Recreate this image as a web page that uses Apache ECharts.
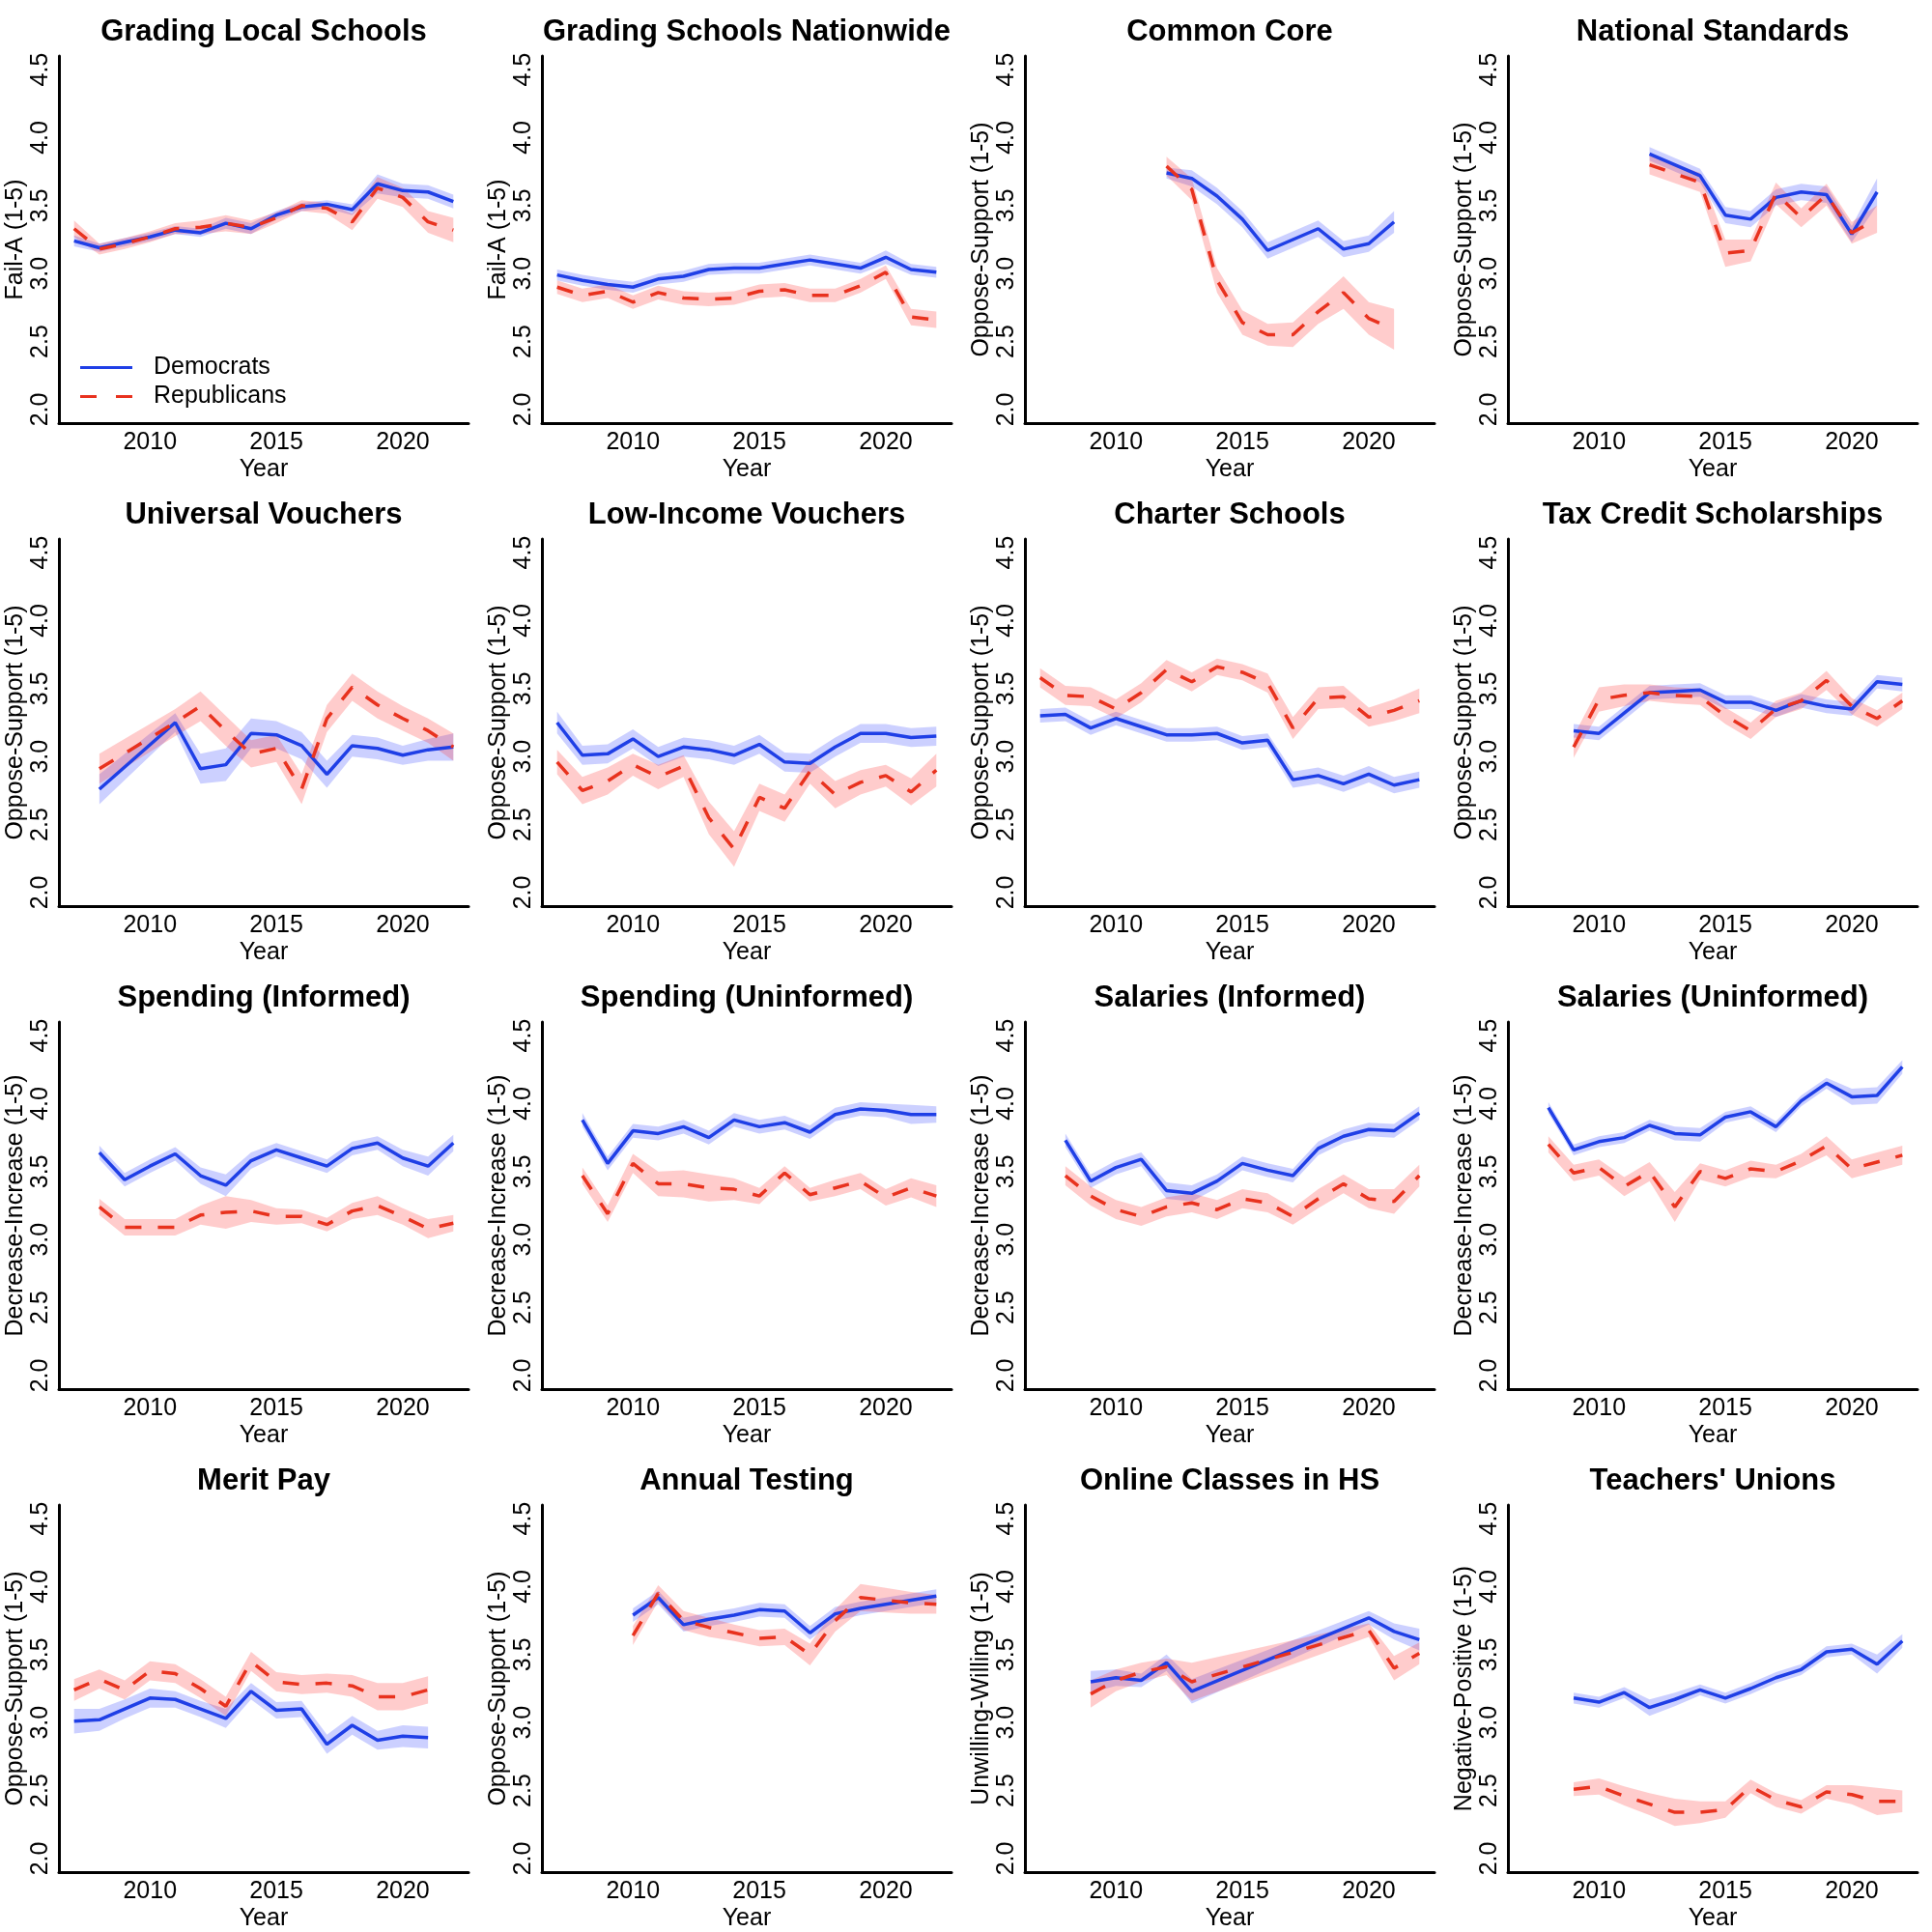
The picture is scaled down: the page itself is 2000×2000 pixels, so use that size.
<!DOCTYPE html>
<html>
<head>
<meta charset="utf-8">
<script src="https://cdn.jsdelivr.net/npm/echarts@6/dist/echarts.min.js"></script>
<style>
html,body{margin:0;padding:0;background:#fff;}
#chart{width:2000px;height:2000px;}
</style>
</head>
<body>
<div id="chart"></div>
<script>
// ---------- data ----------
const titles = ["Grading Local Schools","Grading Schools Nationwide","Common Core","National Standards",
  "Universal Vouchers","Low-Income Vouchers","Charter Schools","Tax Credit Scholarships",
  "Spending (Informed)","Spending (Uninformed)","Salaries (Informed)","Salaries (Uninformed)",
  "Merit Pay","Annual Testing","Online Classes in HS","Teachers' Unions"];
const yNames = ["Fail-A (1-5)","Fail-A (1-5)","Oppose-Support (1-5)","Oppose-Support (1-5)",
  "Oppose-Support (1-5)","Oppose-Support (1-5)","Oppose-Support (1-5)","Oppose-Support (1-5)",
  "Decrease-Increase (1-5)","Decrease-Increase (1-5)","Decrease-Increase (1-5)","Decrease-Increase (1-5)",
  "Oppose-Support (1-5)","Oppose-Support (1-5)","Unwilling-Willing (1-5)","Negative-Positive (1-5)"];
const yTicks = [2.0, 2.5, 3.0, 3.5, 4.0, 4.5];
const xTicks = [2010, 2015, 2020];
const seriesNames = ["Democrats", "Republicans"];

// 1 Grading Local Schools
const p1Years = [2007,2008,2009,2010,2011,2012,2013,2014,2015,2016,2017,2018,2019,2020,2021,2022];
const p1Dem = [3.24,3.19,3.23,3.27,3.32,3.30,3.37,3.33,3.43,3.49,3.51,3.47,3.66,3.61,3.60,3.53];
const p1DemHalf = [0.04,0.03,0.03,0.03,0.03,0.03,0.04,0.04,0.03,0.03,0.03,0.04,0.07,0.05,0.05,0.05];
const p1Rep = [3.33,3.18,3.22,3.27,3.33,3.34,3.37,3.34,3.41,3.50,3.48,3.38,3.63,3.56,3.38,3.32];
const p1RepHalf = [0.06,0.04,0.04,0.04,0.04,0.05,0.06,0.05,0.04,0.04,0.04,0.06,0.08,0.07,0.08,0.09];

// 2 Grading Schools Nationwide
const p2Years = [2007,2008,2009,2010,2011,2012,2013,2014,2015,2016,2017,2018,2019,2020,2021,2022];
const p2Dem = [2.99,2.95,2.92,2.90,2.96,2.98,3.03,3.04,3.04,3.07,3.10,3.07,3.04,3.12,3.03,3.01];
const p2DemHalf = [0.04,0.04,0.04,0.04,0.04,0.04,0.04,0.04,0.04,0.04,0.04,0.04,0.04,0.05,0.04,0.04];
const p2Rep = [2.90,2.84,2.87,2.79,2.86,2.82,2.81,2.82,2.87,2.88,2.84,2.84,2.91,3.01,2.68,2.66];
const p2RepHalf = [0.05,0.05,0.05,0.05,0.05,0.05,0.05,0.05,0.05,0.05,0.05,0.05,0.05,0.05,0.06,0.06];

// 3 Common Core
const p3Years = [2012,2013,2014,2015,2016,2017,2018,2019,2020,2021];
const p3Dem = [3.74,3.70,3.57,3.40,3.17,3.25,3.33,3.18,3.22,3.38];
const p3DemHalf = [0.04,0.06,0.06,0.06,0.06,0.06,0.06,0.06,0.06,0.08];
const p3Rep = [3.79,3.62,2.95,2.64,2.55,2.55,2.72,2.86,2.67,2.59];
const p3RepHalf = [0.07,0.08,0.09,0.09,0.08,0.09,0.09,0.12,0.12,0.15];

// 4 National Standards
const p4Years = [2012,2014,2015,2016,2017,2018,2019,2020,2021];
const p4Dem = [3.88,3.72,3.43,3.40,3.56,3.60,3.58,3.29,3.60];
const p4DemHalf = [0.05,0.05,0.06,0.06,0.06,0.06,0.06,0.06,0.10];
const p4Rep = [3.80,3.67,3.15,3.17,3.59,3.41,3.58,3.30,3.40];
const p4RepHalf = [0.07,0.07,0.10,0.08,0.08,0.07,0.08,0.08,0.10];

// 5 Universal Vouchers
const p5DemYears = [2008,2011,2012,2013,2014,2015,2016,2017,2018,2019,2020,2021,2022];
const p5Dem = [2.76,3.25,2.91,2.94,3.17,3.16,3.08,2.87,3.08,3.06,3.01,3.05,3.07];
const p5DemHalf = [0.11,0.07,0.11,0.12,0.11,0.10,0.10,0.10,0.08,0.08,0.07,0.08,0.10];
const p5RepYears = [2008,2011,2012,2013,2014,2015,2016,2017,2018,2019,2020,2021,2022];
const p5Rep = [2.91,3.25,3.37,3.19,3.02,3.06,2.76,3.28,3.51,3.38,3.28,3.19,3.07];
const p5RepHalf = [0.11,0.10,0.11,0.11,0.10,0.10,0.11,0.10,0.10,0.10,0.09,0.09,0.10];

// 6 Low-Income Vouchers
const p6Years = [2007,2008,2009,2010,2011,2012,2013,2014,2015,2016,2017,2018,2019,2020,2021,2022];
const p6Dem = [3.25,3.01,3.02,3.13,3.00,3.07,3.05,3.01,3.09,2.96,2.95,3.07,3.17,3.17,3.14,3.15];
const p6DemHalf = [0.08,0.07,0.07,0.07,0.07,0.07,0.07,0.07,0.07,0.07,0.07,0.07,0.07,0.07,0.07,0.07];
const p6Rep = [2.96,2.75,2.82,2.94,2.85,2.93,2.55,2.32,2.70,2.62,2.89,2.72,2.81,2.86,2.74,2.90];
const p6RepHalf = [0.09,0.10,0.10,0.08,0.09,0.08,0.12,0.13,0.10,0.10,0.09,0.10,0.09,0.08,0.10,0.12];

// 7 Charter Schools
const p7Years = [2007,2008,2009,2010,2011,2012,2013,2014,2015,2016,2017,2018,2019,2020,2021,2022];
const p7Dem = [3.30,3.31,3.21,3.28,3.22,3.16,3.16,3.17,3.10,3.12,2.83,2.86,2.80,2.87,2.79,2.83];
const p7DemHalf = [0.05,0.05,0.05,0.05,0.05,0.05,0.05,0.05,0.05,0.05,0.06,0.06,0.06,0.06,0.06,0.06];
const p7Rep = [3.58,3.45,3.44,3.35,3.47,3.64,3.55,3.66,3.62,3.54,3.21,3.43,3.44,3.29,3.34,3.41];
const p7RepHalf = [0.07,0.07,0.07,0.07,0.07,0.07,0.07,0.06,0.06,0.07,0.08,0.08,0.08,0.07,0.08,0.09];

// 8 Tax Credit Scholarships
const p8Years = [2009,2010,2011,2012,2013,2014,2015,2016,2017,2018,2019,2020,2021,2022];
const p8Dem = [3.19,3.17,3.32,3.47,3.48,3.49,3.40,3.40,3.34,3.41,3.37,3.35,3.55,3.53];
const p8DemHalf = [0.05,0.05,0.05,0.05,0.05,0.05,0.05,0.05,0.05,0.05,0.05,0.05,0.05,0.05];
const p8Rep = [3.07,3.42,3.45,3.47,3.45,3.44,3.30,3.19,3.35,3.41,3.56,3.37,3.28,3.41];
const p8RepHalf = [0.08,0.09,0.08,0.06,0.06,0.06,0.06,0.06,0.06,0.06,0.07,0.06,0.06,0.06];

// 9 Spending (Informed)
const p9Years = [2008,2009,2010,2011,2012,2013,2014,2015,2016,2017,2018,2019,2020,2021,2022];
const p9Dem = [3.64,3.44,3.54,3.63,3.47,3.40,3.58,3.66,3.60,3.54,3.67,3.71,3.60,3.54,3.71];
const p9DemHalf = [0.05,0.05,0.05,0.05,0.06,0.08,0.06,0.05,0.05,0.05,0.05,0.05,0.06,0.07,0.06];
const p9Rep = [3.24,3.09,3.09,3.09,3.18,3.20,3.21,3.17,3.17,3.11,3.21,3.25,3.17,3.08,3.12];
const p9RepHalf = [0.06,0.06,0.06,0.06,0.07,0.12,0.08,0.06,0.05,0.05,0.06,0.07,0.06,0.07,0.06];

// 10 Spending (Uninformed)
const p10Years = [2008,2009,2010,2011,2012,2013,2014,2015,2016,2017,2018,2019,2020,2021,2022];
const p10Dem = [3.88,3.56,3.80,3.78,3.83,3.75,3.88,3.83,3.86,3.79,3.92,3.96,3.95,3.92,3.92];
const p10DemHalf = [0.05,0.05,0.05,0.05,0.05,0.05,0.05,0.05,0.05,0.05,0.05,0.05,0.05,0.07,0.06];
const p10Rep = [3.47,3.19,3.56,3.41,3.41,3.38,3.37,3.32,3.49,3.33,3.38,3.43,3.31,3.38,3.32];
const p10RepHalf = [0.06,0.06,0.07,0.09,0.10,0.10,0.08,0.06,0.05,0.05,0.06,0.06,0.06,0.07,0.08];

// 11 Salaries (Informed)
const p11Years = [2008,2009,2010,2011,2012,2013,2014,2015,2016,2017,2018,2019,2020,2021,2022];
const p11Dem = [3.73,3.43,3.53,3.59,3.36,3.34,3.43,3.56,3.51,3.47,3.67,3.76,3.81,3.80,3.93];
const p11DemHalf = [0.05,0.05,0.05,0.05,0.06,0.06,0.05,0.05,0.05,0.05,0.05,0.05,0.05,0.05,0.05];
const p11Rep = [3.47,3.32,3.22,3.17,3.24,3.27,3.22,3.30,3.27,3.17,3.30,3.41,3.30,3.28,3.47];
const p11RepHalf = [0.07,0.07,0.07,0.07,0.07,0.07,0.07,0.07,0.07,0.06,0.07,0.07,0.07,0.09,0.08];

// 12 Salaries (Uninformed)
const p12Years = [2008,2009,2010,2011,2012,2013,2014,2015,2016,2017,2018,2019,2020,2021,2022];
const p12Dem = [3.97,3.66,3.72,3.75,3.84,3.78,3.77,3.90,3.94,3.83,4.02,4.15,4.05,4.06,4.27];
const p12DemHalf = [0.04,0.04,0.04,0.04,0.04,0.05,0.05,0.04,0.04,0.04,0.04,0.04,0.06,0.06,0.05];
const p12Rep = [3.70,3.49,3.53,3.39,3.50,3.24,3.50,3.45,3.52,3.50,3.58,3.69,3.52,3.57,3.62];
const p12RepHalf = [0.06,0.06,0.06,0.07,0.07,0.11,0.06,0.06,0.06,0.05,0.05,0.07,0.07,0.07,0.07];

// 13 Merit Pay
const p13Years = [2007,2008,2009,2010,2011,2012,2013,2014,2015,2016,2017,2018,2019,2020,2021];
const p13Dem = [3.01,3.02,3.10,3.18,3.17,3.10,3.03,3.23,3.09,3.10,2.84,2.98,2.87,2.90,2.89];
const p13DemHalf = [0.09,0.08,0.07,0.07,0.06,0.06,0.07,0.06,0.06,0.06,0.07,0.07,0.07,0.08,0.08];
const p13Rep = [3.24,3.32,3.24,3.38,3.36,3.25,3.12,3.45,3.30,3.28,3.29,3.27,3.19,3.19,3.24];
const p13RepHalf = [0.08,0.07,0.07,0.07,0.07,0.07,0.07,0.07,0.07,0.07,0.07,0.08,0.10,0.10,0.10];

// 14 Annual Testing
const p14Years = [2010,2011,2012,2013,2014,2015,2016,2017,2018,2019,2020,2021,2022];
const p14Dem = [3.79,3.92,3.72,3.76,3.79,3.83,3.82,3.66,3.80,3.84,3.87,3.90,3.93];
const p14DemHalf = [0.05,0.05,0.05,0.05,0.05,0.05,0.05,0.05,0.05,0.05,0.05,0.05,0.05];
const p14Rep = [3.64,3.95,3.75,3.70,3.66,3.62,3.63,3.50,3.75,3.92,3.90,3.88,3.87];
const p14RepHalf = [0.07,0.06,0.07,0.07,0.06,0.06,0.06,0.08,0.08,0.10,0.09,0.08,0.07];

// 15 Online Classes in HS
const p15Years = [2009,2010,2011,2012,2013,2020,2021,2022];
const p15Dem = [3.30,3.33,3.31,3.44,3.23,3.77,3.67,3.61];
const p15DemHalf = [0.08,0.06,0.05,0.06,0.09,0.05,0.06,0.08];
const p15Rep = [3.21,3.31,3.37,3.41,3.30,3.68,3.40,3.51];
const p15RepHalf = [0.10,0.08,0.07,0.06,0.14,0.05,0.09,0.08];

// 16 Teachers' Unions
const p16Years = [2009,2010,2011,2012,2013,2014,2015,2016,2017,2018,2019,2020,2021,2022];
const p16Dem = [3.18,3.15,3.22,3.11,3.17,3.24,3.18,3.25,3.33,3.39,3.52,3.54,3.43,3.60];
const p16DemHalf = [0.04,0.04,0.04,0.06,0.05,0.04,0.04,0.04,0.04,0.04,0.04,0.04,0.07,0.05];
const p16Rep = [2.51,2.53,2.46,2.40,2.34,2.34,2.36,2.53,2.43,2.38,2.49,2.47,2.42,2.42];
const p16RepHalf = [0.05,0.06,0.07,0.08,0.10,0.08,0.06,0.05,0.05,0.05,0.05,0.07,0.10,0.08];

const panels = [
  [p1Years,p1Dem,p1DemHalf,p1Years,p1Rep,p1RepHalf],
  [p2Years,p2Dem,p2DemHalf,p2Years,p2Rep,p2RepHalf],
  [p3Years,p3Dem,p3DemHalf,p3Years,p3Rep,p3RepHalf],
  [p4Years,p4Dem,p4DemHalf,p4Years,p4Rep,p4RepHalf],
  [p5DemYears,p5Dem,p5DemHalf,p5RepYears,p5Rep,p5RepHalf],
  [p6Years,p6Dem,p6DemHalf,p6Years,p6Rep,p6RepHalf],
  [p7Years,p7Dem,p7DemHalf,p7Years,p7Rep,p7RepHalf],
  [p8Years,p8Dem,p8DemHalf,p8Years,p8Rep,p8RepHalf],
  [p9Years,p9Dem,p9DemHalf,p9Years,p9Rep,p9RepHalf],
  [p10Years,p10Dem,p10DemHalf,p10Years,p10Rep,p10RepHalf],
  [p11Years,p11Dem,p11DemHalf,p11Years,p11Rep,p11RepHalf],
  [p12Years,p12Dem,p12DemHalf,p12Years,p12Rep,p12RepHalf],
  [p13Years,p13Dem,p13DemHalf,p13Years,p13Rep,p13RepHalf],
  [p14Years,p14Dem,p14DemHalf,p14Years,p14Rep,p14RepHalf],
  [p15Years,p15Dem,p15DemHalf,p15Years,p15Rep,p15RepHalf],
  [p16Years,p16Dem,p16DemHalf,p16Years,p16Rep,p16RepHalf]
];

// ---------- styling / layout ----------
const FONT = '"Liberation Sans", Arial, Helvetica, sans-serif';
const DEM_COLOR = '#1f3fe6';
const REP_COLOR = '#e8321e';
const DEM_BAND = 'rgba(40,60,255,0.24)';
const REP_BAND = 'rgba(255,40,40,0.24)';
const CELL = 500, GL = 61, GT = 58, GW = 424, GH = 380;

const grids = [], xAxes = [], yAxes = [], titleList = [], series = [];

panels.forEach((p, i) => {
  const col = i % 4, row = Math.floor(i / 4);
  const left = col * CELL + GL, top = row * CELL + GT;
  grids.push({left: left, top: top, width: GW, height: GH, containLabel: false});
  titleList.push({
    text: titles[i], left: left + GW / 2, top: row * CELL + 18, textAlign: 'center', padding: 0,
    textStyle: {fontFamily: FONT, fontSize: 31, fontWeight: 'bold', color: '#000'}
  });
  xAxes.push({
    type: 'value', gridIndex: i, min: 2006.4, max: 2022.6,
    name: 'Year', nameLocation: 'middle', nameGap: 36,
    nameTextStyle: {fontFamily: FONT, fontSize: 25, color: '#000'},
    axisLine: {show: true, onZero: false, lineStyle: {color: '#000', width: 3}},
    axisTick: {show: false},
    splitLine: {show: false},
    axisLabel: {customValues: xTicks, fontFamily: FONT, fontSize: 25, color: '#000', margin: 8,
      formatter: v => String(v)}
  });
  yAxes.push({
    type: 'value', gridIndex: i, min: 1.9, max: 4.6,
    name: yNames[i], nameLocation: 'middle', nameGap: 30,
    nameTextStyle: {fontFamily: FONT, fontSize: 25, color: '#000'},
    axisLine: {show: true, onZero: false, lineStyle: {color: '#000', width: 3}},
    axisTick: {show: false},
    splitLine: {show: false},
    axisLabel: {customValues: yTicks, rotate: 90, fontFamily: FONT, fontSize: 25, color: '#000', margin: 6,
      formatter: v => v.toFixed(1)}
  });

  const groups = [
    {years: p[0], mean: p[1], half: p[2], name: seriesNames[0], color: DEM_COLOR, band: DEM_BAND, dash: 'solid'},
    {years: p[3], mean: p[4], half: p[5], name: seriesNames[1], color: REP_COLOR, band: REP_BAND, dash: [17, 17]}
  ];
  groups.forEach((g, k) => {
    const stackId = 'band' + i + '_' + k;
    // value first so the y dimension is the stacked one; x read from dim 1
    series.push({
      type: 'line', name: 'lo' + stackId, xAxisIndex: i, yAxisIndex: i, stack: stackId,
      encode: {x: 1, y: 0},
      data: g.years.map((y, j) => [g.mean[j] - g.half[j], y]),
      symbol: 'none', lineStyle: {opacity: 0, width: 0}, silent: true, z: 2
    });
    series.push({
      type: 'line', name: 'ci' + stackId, xAxisIndex: i, yAxisIndex: i, stack: stackId,
      encode: {x: 1, y: 0},
      data: g.years.map((y, j) => [2 * g.half[j], y]),
      symbol: 'none', lineStyle: {opacity: 0, width: 0}, areaStyle: {color: g.band, opacity: 1},
      silent: true, z: 2
    });
    series.push({
      type: 'line', name: g.name, xAxisIndex: i, yAxisIndex: i,
      data: g.years.map((y, j) => [y, g.mean[j]]),
      symbol: 'none', color: g.color,
      lineStyle: {color: g.color, width: 3.5, type: g.dash}, z: 2
    });
  });
});

const option = {
  backgroundColor: '#fff',
  animation: false,
  title: titleList,
  grid: grids,
  xAxis: xAxes,
  yAxis: yAxes,
  legend: {
    show: true, orient: 'vertical', left: 83, top: 368, padding: 0,
    itemWidth: 54, itemHeight: 3, itemGap: 5,
    selectedMode: false,
    textStyle: {fontFamily: FONT, fontSize: 25, color: '#000', padding: [0, 0, 0, 17]},
    data: [
      {name: seriesNames[0], icon: 'path://M0,0H54V3H0Z'},
      {name: seriesNames[1], icon: 'path://M0,0H17V3H0Z M37,0H54V3H37Z'}
    ]
  },
  series: series
};

const chart = echarts.init(document.getElementById('chart'), null, {renderer: 'canvas', width: 2000, height: 2000});
chart.setOption(option);
</script>
</body>
</html>
